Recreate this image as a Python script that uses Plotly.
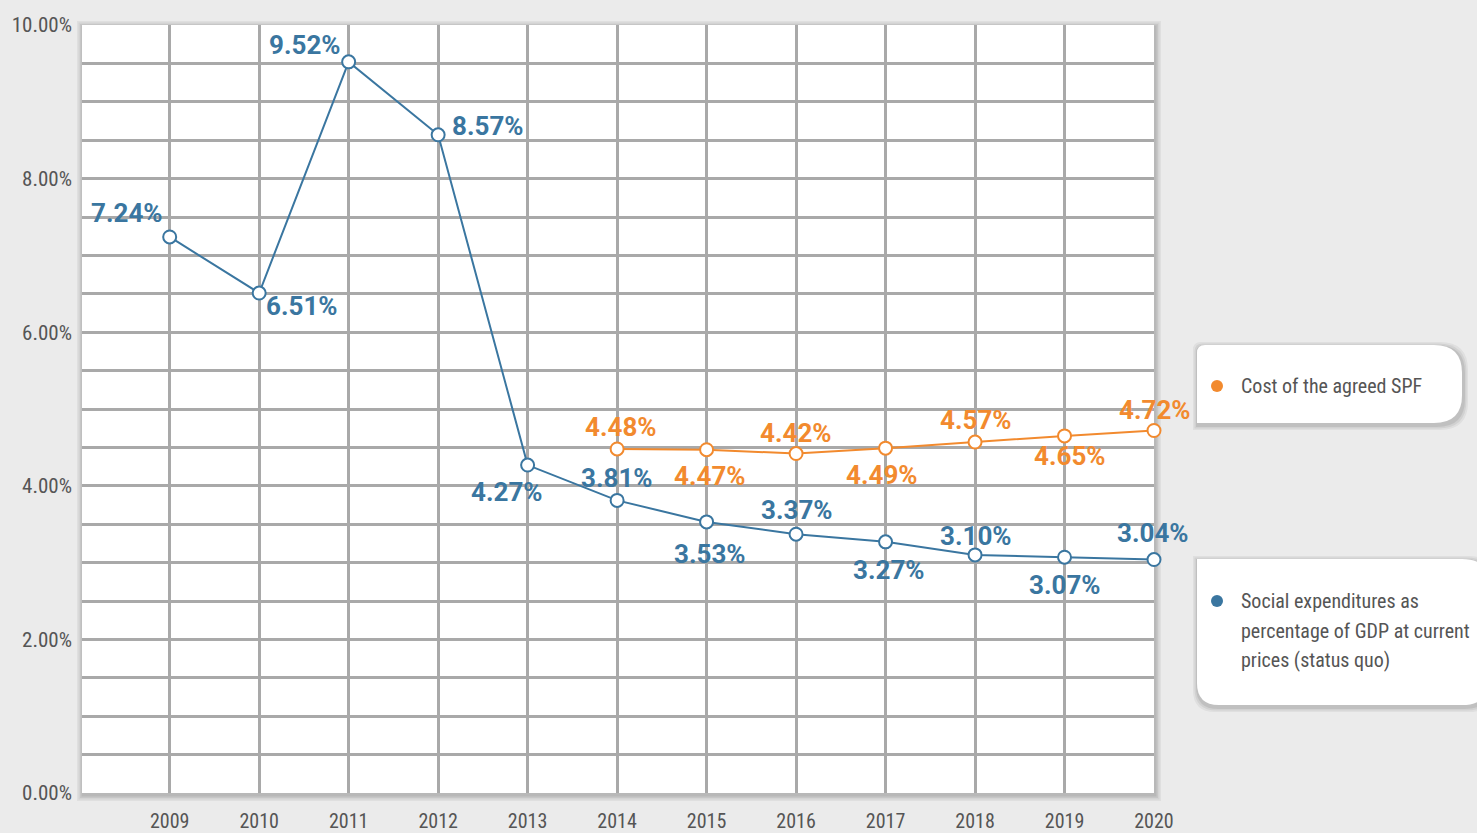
import plotly.graph_objects as go

# ---- data ----
years = [2009, 2010, 2011, 2012, 2013, 2014, 2015, 2016, 2017, 2018, 2019, 2020]
social_exp = [7.24, 6.51, 9.52, 8.57, 4.27, 3.81, 3.53, 3.37, 3.27, 3.10, 3.07, 3.04]
spf_years = [2014, 2015, 2016, 2017, 2018, 2019, 2020]
spf_cost = [4.48, 4.47, 4.42, 4.49, 4.57, 4.65, 4.72]
y_tick_vals = [i * 0.5 for i in range(21)]
y_tick_text = [f"{v:.2f}%" if abs(v % 2) < 1e-9 else "" for v in y_tick_vals]
spf_name_lines = ["Cost of the agreed SPF"]
social_name_lines = ["Social expenditures as", "percentage of GDP at current", "prices (status quo)"]

# label offsets (pixels) – styling only
blue_off = [(-43, 24), (43, -13), (-44, 17), (50, 9), (-21, -27), (0, 22),
            (3, -32), (1, 24), (3, -28), (1, 19), (0, -28), (-1, 27)]
orange_off = [(4, 22), (3, -26), (0, 21), (-4, -27), (1, 22), (5, -20), (1, 21)]

BLUE = "#3a76a0"
ORANGE = "#f28a2e"
GRID = "#a9a9a9"
TXT = "#555555"
COND = "Roboto, sans-serif"
LABF = "Roboto, Inter, sans-serif"

W, H = 1477, 833
L, R, T, B = 82, 1154, 25, 793


def px(x):
    return (x - L) / (R - L)


def py(y):
    return (B - y) / (B - T)


fig = go.Figure()
fig.add_trace(go.Scatter(
    x=years, y=social_exp, mode="lines+markers",
    line=dict(color=BLUE, width=2),
    marker=dict(symbol="circle", size=13, color="white", line=dict(color=BLUE, width=2)),
    showlegend=False, cliponaxis=False))
fig.add_trace(go.Scatter(
    x=spf_years, y=spf_cost, mode="lines+markers",
    line=dict(color=ORANGE, width=2),
    marker=dict(symbol="circle", size=13, color="white", line=dict(color=ORANGE, width=2)),
    showlegend=False, cliponaxis=False))

annotations = []
for x, v, (dx, dy) in zip(years, social_exp, blue_off):
    annotations.append(dict(x=x, y=v, xref="x", yref="y", text=f"{v:.2f}%", showarrow=False,
                            xshift=dx, yshift=dy,
                            font=dict(family=LABF, size=26, color=BLUE, weight="bold")))
for x, v, (dx, dy) in zip(spf_years, spf_cost, orange_off):
    annotations.append(dict(x=x, y=v, xref="x", yref="y", text=f"{v:.2f}%", showarrow=False,
                            xshift=dx, yshift=dy,
                            font=dict(family=LABF, size=26, color=ORANGE, weight="bold")))

# legend texts
for i, line in enumerate(spf_name_lines):
    annotations.append(dict(x=px(1239), y=py(386 + 30 * i), xref="paper", yref="paper", text=line,
                            showarrow=False, xanchor="left", yanchor="middle", align="left",
                            font=dict(family=COND, size=20, color=TXT)))
for i, line in enumerate(social_name_lines):
    annotations.append(dict(x=px(1239), y=py(601 + 29.5 * i), xref="paper", yref="paper", text=line,
                            showarrow=False, xanchor="left", yanchor="middle", align="left",
                            font=dict(family=COND, size=20, color=TXT)))


def rounded(x0, y0, x1, y1, r_tl, r_tr, r_br, r_bl):
    pts = []
    pts.append(f"M{px(x0 + r_tl)},{py(y0)}")
    pts.append(f"L{px(x1 - r_tr)},{py(y0)}")
    pts.append(f"Q{px(x1)},{py(y0)} {px(x1)},{py(y0 + r_tr)}")
    pts.append(f"L{px(x1)},{py(y1 - r_br)}")
    pts.append(f"Q{px(x1)},{py(y1)} {px(x1 - r_br)},{py(y1)}")
    pts.append(f"L{px(x0 + r_bl)},{py(y1)}")
    pts.append(f"Q{px(x0)},{py(y1)} {px(x0)},{py(y1 - r_bl)}")
    pts.append(f"L{px(x0)},{py(y0 + r_tl)}")
    pts.append(f"Q{px(x0)},{py(y0)} {px(x0 + r_tl)},{py(y0)}")
    pts.append("Z")
    return " ".join(pts)


shapes = []
# plot-area shadow
for i, op in enumerate([0.05, 0.05, 0.06, 0.07]):
    g = 6 - i * 1.5
    shapes.append(dict(type="rect", xref="paper", yref="paper", layer="below",
                       x0=px(L - g + 1), x1=px(R + g + 1), y0=py(B + g + 2), y1=py(T - g + 2),
                       fillcolor=f"rgba(0,0,0,{op})", line=dict(width=0)))
shapes.append(dict(type="rect", xref="paper", yref="paper", layer="below",
                   x0=0, x1=1, y0=0, y1=1, fillcolor="white", line=dict(width=0)))

# legend boxes with shadows
boxes = [(1197, 345, 1462, 423, 8, 28, 28, 0), (1197, 559, 1490, 705, 0, 28, 28, 22)]
for (x0, y0, x1, y1, a, b, c, d) in boxes:
    for i, op in enumerate([0.05, 0.06, 0.08]):
        g = 5 - i * 1.5
        shapes.append(dict(type="path", xref="paper", yref="paper", layer="below",
                           path=rounded(x0 - g + 1, y0 - g + 2, x1 + g + 1, y1 + g + 2, a, b, c, d),
                           fillcolor=f"rgba(0,0,0,{op})", line=dict(width=0)))
    shapes.append(dict(type="path", xref="paper", yref="paper", layer="below",
                       path=rounded(x0, y0, x1, y1, a, b, c, d),
                       fillcolor="white", line=dict(width=0)))

# legend dots
for (cx, cy, col) in [(1217, 386, ORANGE), (1217, 601, BLUE)]:
    shapes.append(dict(type="circle", xref="paper", yref="paper", layer="above",
                       x0=px(cx - 6), x1=px(cx + 6), y0=py(cy + 6), y1=py(cy - 6),
                       fillcolor=col, line=dict(width=0)))

fig.update_layout(
    width=W, height=H,
    margin=dict(l=L, r=W - R, t=T, b=H - B, autoexpand=False),
    paper_bgcolor="#ebebeb", plot_bgcolor="rgba(0,0,0,0)",
    annotations=annotations, shapes=shapes,
    showlegend=False,
    xaxis=dict(range=[2008.02, 2020.0], tickvals=years, ticktext=[str(y) for y in years],
               showgrid=True, gridcolor=GRID, gridwidth=3, zeroline=False, showline=False,
               ticks="", ticklabelstandoff=14, automargin=False,
               tickfont=dict(family=COND, size=20, color=TXT)),
    yaxis=dict(range=[0, 10], tickvals=y_tick_vals, ticktext=y_tick_text,
               showgrid=True, gridcolor=GRID, gridwidth=3, zeroline=False, showline=False,
               ticks="", ticklabelstandoff=9, automargin=False,
               tickfont=dict(family=COND, size=21, color=TXT)),
)

post = """
var s=document.createElement('style');
s.innerHTML='html,body{margin:0;padding:0;background:#ebebeb;} .main-svg text{font-stretch:75% !important;} .main-svg text[style*="Inter"]{font-stretch:100% !important;}';
document.head.appendChild(s);
"""
fig.write_html("out.html", post_script=post, config={"displayModeBar": False})
